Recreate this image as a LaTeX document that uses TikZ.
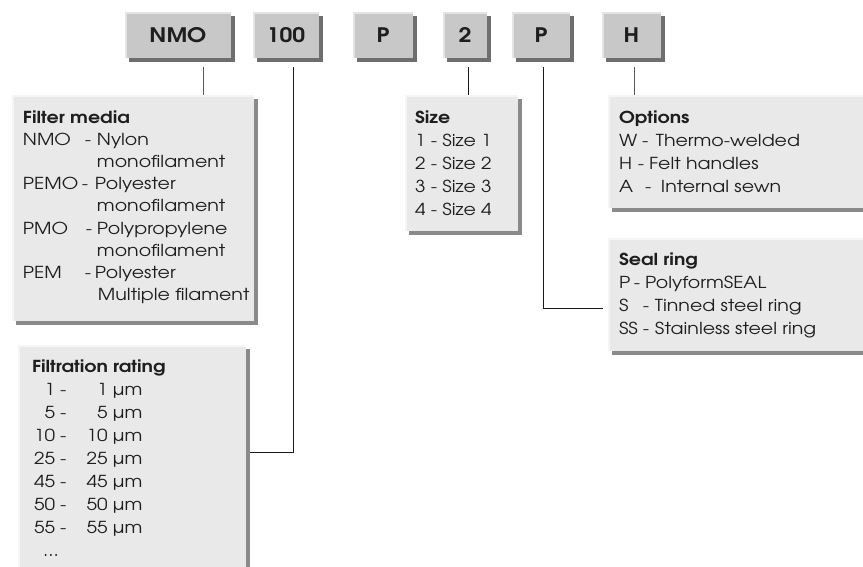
\documentclass[tikz,border=0pt]{standalone}
\usepackage{fontspec}
\setmainfont{TeX Gyre Adventor}[FakeStretch=1.15]
\usetikzlibrary{calc}
\definecolor{topfill}{HTML}{C8C8C8}
\definecolor{tophi}{HTML}{E4E4E4}
\definecolor{topshadow}{HTML}{6E6E6E}
\definecolor{boxfill}{HTML}{E9E9E9}
\definecolor{boxhi}{HTML}{F5F5F5}
\definecolor{boxshadow}{HTML}{8A8A8A}
\definecolor{ink}{HTML}{1E1E1E}
\definecolor{lightline}{HTML}{5A5A5A}
\definecolor{darkline}{HTML}{1A1A1A}
\tikzset{
  codebox/.style={anchor=north west, fill=topfill, inner sep=0pt, outer sep=0pt,
    minimum height=46pt, text=ink, font=\bfseries\fontsize{20}{20}\selectfont,
    preaction={fill=topshadow, transform canvas={shift={(4pt,-4pt)}}},
    path picture={\draw[tophi, line width=4pt]
      (path picture bounding box.south west) -- (path picture bounding box.north west)
      -- (path picture bounding box.north east);}},
  infobox/.style={anchor=north west, fill=boxfill, inner sep=0pt, outer sep=0pt,
    preaction={fill=boxshadow, transform canvas={shift={(4pt,-4pt)}}},
    path picture={\draw[boxhi, line width=4pt]
      (path picture bounding box.south west) -- (path picture bounding box.north west)
      -- (path picture bounding box.north east);}},
  txt/.style={inner sep=0pt, outer sep=0pt, anchor=base west, text=ink,
    font=\fontsize{16.5}{22.2}\selectfont},
  connlight/.style={draw=lightline, line width=1pt},
  conndark/.style={draw=darkline, line width=1pt},
}
\begin{document}
\begin{tikzpicture}[x=1pt, y=-1pt]
\fill[white] (0,0) rectangle (863,566);
\useasboundingbox (0,0) rectangle (863,566);

% code boxes
\node[codebox, minimum width=106pt] (nmo) at (125,12) {NMO};
\node[codebox, minimum width=66pt] (hundred) at (253,12) {100};
\node[codebox, minimum width=60pt] (pa) at (353,12) {P};
\node[codebox, minimum width=44pt] (two) at (443,12) {2};
\node[codebox, minimum width=58pt] (pb) at (512,12) {P};
\node[codebox, minimum width=59pt] (h) at (602,12) {H};

% info boxes
\node[infobox, minimum width=242pt, minimum height=226pt] (media) at (12,95) {};
\node[infobox, minimum width=228pt, minimum height=240pt] (rating) at (18,345) {};
\node[infobox, minimum width=113pt, minimum height=136pt] (size) at (405,95) {};
\node[infobox, minimum width=262pt, minimum height=113pt] (options) at (608,95) {};
\node[infobox, minimum width=262pt, minimum height=113pt] (seal) at (608,238) {};

% connectors
\coordinate (j1) at (203,67);
\coordinate (j2) at (293,67);
\coordinate (j2b) at (250,452);
\coordinate (j3) at (468,67);
\coordinate (j4) at (543,67);
\coordinate (j4b) at (603,308);
\coordinate (j5) at (634,67);
\draw[connlight] (j1) -- (j1 |- media.north);
\draw[conndark] (j2) |- (j2b);
\draw[conndark] (j3) -- (j3 |- size.north);
\draw[conndark] (j4) |- (j4b);
\draw[connlight] (j5) -- (j5 |- options.north);

% texts
\node[txt] (mediatext) at (23,123) {\begin{tabular}[t]{@{}l@{}}
\textbf{Filter media}\\
\makebox[62pt][l]{NMO}\makebox[12pt][l]{-}Nylon\\
\hspace*{74pt}monofilament\\
\makebox[59pt][l]{PEMO}\makebox[13pt][l]{-}Polyester\\
\hspace*{74pt}monofilament\\
\makebox[63pt][l]{PMO}\makebox[11pt][l]{-}Polypropylene\\
\hspace*{74pt}monofilament\\
\makebox[62pt][l]{PEM}\makebox[10pt][l]{-}Polyester\\
\hspace*{75pt}Multiple filament
\end{tabular}};

\node[txt, font=\fontsize{16.5}{23}\selectfont] (ratingtext) at (32,372) {\begin{tabular}[t]{@{\hspace{2pt}}r@{\hspace{5pt}}l@{}r@{}}
\multicolumn{3}{@{}l@{}}{\makebox[0pt][l]{\textbf{Filtration rating}}}\\
1 & - & \makebox[76pt][r]{1 µm}\\
5 & - & \makebox[76pt][r]{5 µm}\\
10 & - & \makebox[76pt][r]{10 µm}\\
25 & - & \makebox[76pt][r]{25 µm}\\
45 & - & \makebox[76pt][r]{45 µm}\\
50 & - & \makebox[76pt][r]{50 µm}\\
55 & - & \makebox[76pt][r]{55 µm}\\
\multicolumn{3}{@{\hspace{11pt}}l@{}}{...}
\end{tabular}};

\node[txt, font=\fontsize{16.5}{23}\selectfont] (sizetext) at (415,123) {\begin{tabular}[t]{@{}l@{}}
\textbf{Size}\\
1 - Size 1\\
2 - Size 2\\
3 - Size 3\\
4 - Size 4
\end{tabular}};

\node[txt, font=\fontsize{16.5}{23}\selectfont] (optionstext) at (619,123) {\begin{tabular}[t]{@{}l@{}}
\textbf{Options}\\
\makebox[23pt][l]{W}\makebox[14pt][l]{-}Thermo-welded\\
\makebox[19pt][l]{H}\makebox[11pt][l]{-}Felt handles\\
\makebox[26pt][l]{A}\makebox[16pt][l]{-}Internal sewn
\end{tabular}};

\node[txt, font=\fontsize{16.5}{23.3}\selectfont] (sealtext) at (619,265) {\begin{tabular}[t]{@{}l@{}}
\textbf{Seal ring}\\
\makebox[15pt][l]{P}\makebox[11pt][l]{-}PolyformSEAL\\
\makebox[24pt][l]{S}\makebox[12pt][l]{-}Tinned steel ring\\
\makebox[24pt][l]{SS}\makebox[12pt][l]{-}Stainless steel ring
\end{tabular}};
\end{tikzpicture}
\end{document}
